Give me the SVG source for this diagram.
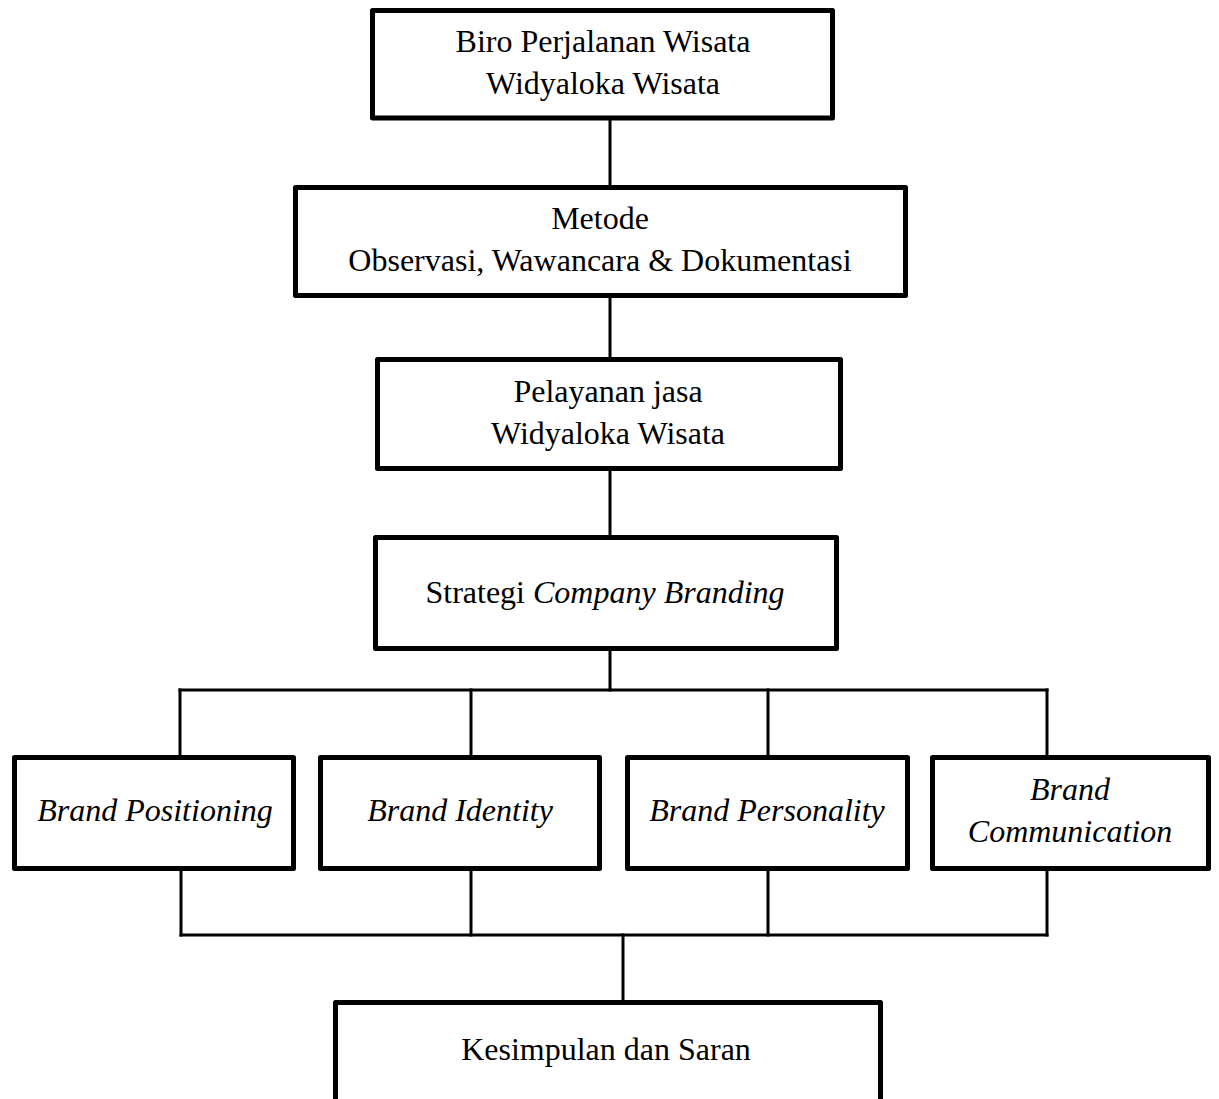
<svg xmlns="http://www.w3.org/2000/svg" width="1219" height="1099" viewBox="0 0 1219 1099">
<style>
.box{fill:#fff;stroke:#000;stroke-width:5;stroke-linejoin:round}
.con line{stroke:#000;stroke-width:3;stroke-linecap:square}
text{font-family:"Liberation Serif","Times New Roman",serif;font-size:32px;fill:#000;text-anchor:middle}
.i{font-style:italic}
</style>
<rect width="1219" height="1099" fill="#fff"/>
<g id="connectors" class="con">
<line x1="610" y1="118" x2="610" y2="187"/>
<line x1="610" y1="296" x2="610" y2="359"/>
<line x1="610" y1="469" x2="610" y2="537"/>
<line x1="610" y1="649" x2="610" y2="690"/>
<line x1="180" y1="690" x2="1047" y2="690"/>
<line x1="180" y1="690" x2="180" y2="757"/>
<line x1="471" y1="690" x2="471" y2="757"/>
<line x1="768" y1="690" x2="768" y2="757"/>
<line x1="1047" y1="690" x2="1047" y2="757"/>
<line x1="181" y1="869" x2="181" y2="935"/>
<line x1="471" y1="869" x2="471" y2="935"/>
<line x1="768" y1="869" x2="768" y2="935"/>
<line x1="1047" y1="869" x2="1047" y2="935"/>
<line x1="181" y1="935" x2="1047" y2="935"/>
<line x1="623" y1="935" x2="623" y2="1002"/>
</g>
<g id="n1"><rect class="box" x="372.5" y="10.5" width="460" height="107.5"/>
<text x="603" y="52">Biro Perjalanan Wisata</text>
<text x="603" y="94">Widyaloka Wisata</text></g>
<g id="n2"><rect class="box" x="295.5" y="187.5" width="610" height="108"/>
<text x="600" y="229">Metode</text>
<text x="600" y="271">Observasi, Wawancara &amp; Dokumentasi</text></g>
<g id="n3"><rect class="box" x="377.5" y="359.5" width="463" height="109"/>
<text x="608" y="402">Pelayanan jasa</text>
<text x="608" y="444">Widyaloka Wisata</text></g>
<g id="n4"><rect class="box" x="375.5" y="537.5" width="461" height="111"/>
<text x="605" y="603">Strategi <tspan class="i">Company Branding</tspan></text></g>
<g id="n5"><rect class="box" x="14.5" y="757.5" width="279" height="111"/>
<text class="i" x="155" y="821">Brand Positioning</text></g>
<g id="n6"><rect class="box" x="320.5" y="757.5" width="279" height="111"/>
<text class="i" x="460" y="821">Brand Identity</text></g>
<g id="n7"><rect class="box" x="627.5" y="757.5" width="280" height="111"/>
<text class="i" x="767" y="821">Brand Personality</text></g>
<g id="n8"><rect class="box" x="932.5" y="757.5" width="276" height="111"/>
<text class="i" x="1070" y="800">Brand</text>
<text class="i" x="1070" y="842">Communication</text></g>
<g id="n9"><rect class="box" x="335.5" y="1002.5" width="545" height="150"/>
<text x="606" y="1060">Kesimpulan dan Saran</text></g>
</svg>
